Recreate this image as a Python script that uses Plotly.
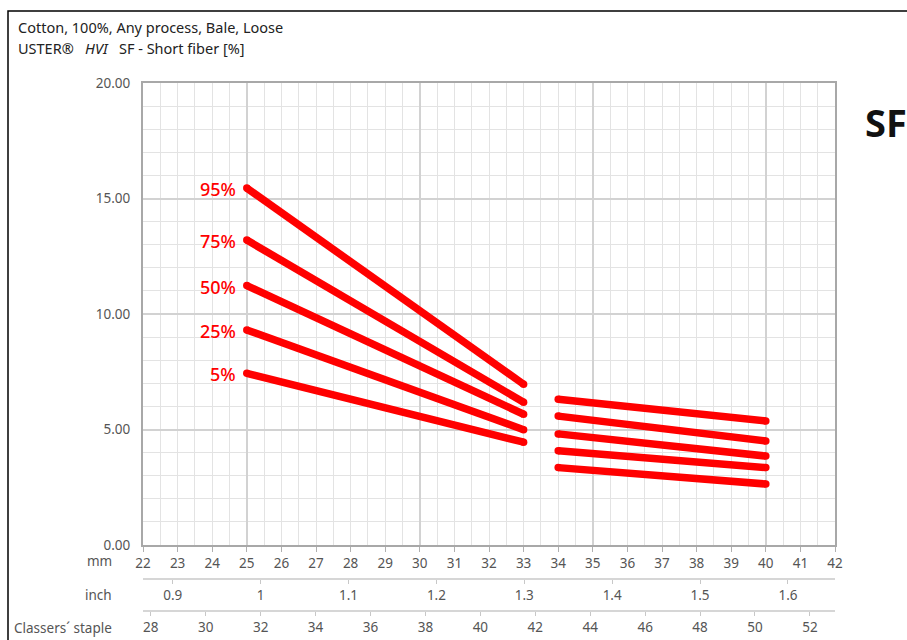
import plotly.graph_objects as go

# ---- data ----
percentiles = ["95%", "75%", "50%", "25%", "5%"]
seg1_mm = [25, 33]
seg2_mm = [34, 40]
seg1_start = [15.45, 13.20, 11.23, 9.31, 7.43]
seg1_end = [6.96, 6.18, 5.66, 4.99, 4.45]
seg2_start = [6.31, 5.58, 4.81, 4.08, 3.35]
seg2_end = [5.37, 4.50, 3.85, 3.35, 2.64]

MM_PER_INCH = 25.4
mm_range = [22, 42]
inch_range = [mm_range[0] / MM_PER_INCH, mm_range[1] / MM_PER_INCH]
staple_range = [v * 32 for v in inch_range]

title_line1 = "Cotton, 100%, Any process, Bale, Loose"
title_line2 = "USTER®&nbsp;&nbsp;&nbsp;<i>HVI</i>&nbsp;&nbsp;&nbsp;SF - Short fiber [%]"

FONT = "Noto Sans"
RED = "#ff0000"
TICKC = "#555555"

fig = go.Figure()
for i, name in enumerate(percentiles):
    xs = seg1_mm + [None] + seg2_mm
    ys = [seg1_start[i], seg1_end[i], None, seg2_start[i], seg2_end[i]]
    fig.add_trace(go.Scatter(
        x=xs, y=ys, mode="lines+markers", name=name,
        line=dict(color=RED, width=7.5),
        marker=dict(color=RED, size=7.5),
        connectgaps=False, showlegend=False, hoverinfo="skip",
    ))
    fig.add_annotation(
        x=seg1_mm[0], y=seg1_start[i], xref="x", yref="y",
        text=name, showarrow=False, xanchor="right", yanchor="middle",
        xshift=-9, yshift=-1, font=dict(family=FONT, size=18, color=RED, weight=500),
    )

# invisible helper traces so the overlaid scale axes get drawn
for ax, rng in [("x2", inch_range), ("x3", staple_range), ("x4", mm_range)]:
    fig.add_trace(go.Scatter(
        x=rng, y=[0, 0], xaxis=ax, yaxis="y", mode="markers",
        marker=dict(opacity=0, size=1), showlegend=False, hoverinfo="skip",
    ))

fig.update_layout(
    width=907, height=640,
    margin=dict(l=143, r=72, t=83, b=29),
    paper_bgcolor="white", plot_bgcolor="white",
    font=dict(family=FONT, size=13.5, color=TICKC),
    xaxis=dict(
        range=mm_range, dtick=1, tick0=0, domain=[0, 1], anchor="y",
        showgrid=True, gridcolor="#e3e3e3", gridwidth=1,
        minor=dict(dtick=0.5, showgrid=True, gridcolor="#e3e3e3", gridwidth=1),
        ticks="outside", ticklen=5, tickcolor="#b0b0b0",
        showline=True, linecolor="#a8a8a8", linewidth=2, mirror=True,
        zeroline=False, tickfont=dict(size=13.5, color=TICKC), automargin=False,
    ),
    xaxis4=dict(
        range=mm_range, dtick=5, tick0=0, overlaying="x", anchor="y",
        showgrid=True, gridcolor="#d2d2d2", gridwidth=2,
        showticklabels=False, ticks="", showline=False, zeroline=False,
        automargin=False,
    ),
    xaxis2=dict(
        range=inch_range, dtick=0.1, tick0=0, overlaying="x", anchor="free",
        position=(611 - 579) / 528, side="bottom",
        showgrid=False, zeroline=False,
        showline=True, linecolor="#d6d6d6", linewidth=2,
        ticks="outside", ticklen=4, tickcolor="#c8c8c8",
        tickfont=dict(size=13.5, color=TICKC), automargin=False,
    ),
    xaxis3=dict(
        range=staple_range, dtick=2, tick0=0, overlaying="x", anchor="free",
        position=0, side="bottom",
        showgrid=False, zeroline=False,
        showline=True, linecolor="#d6d6d6", linewidth=2,
        ticks="outside", ticklen=4, tickcolor="#c8c8c8",
        tickfont=dict(size=13.5, color=TICKC), automargin=False,
    ),
    yaxis=dict(
        range=[0, 20], dtick=5, tick0=0, domain=[(611 - 545) / 528, 1],
        tickformat=".2f", showgrid=True, gridcolor="#d2d2d2", gridwidth=2,
        minor=dict(dtick=1, showgrid=True, gridcolor="#e3e3e3", gridwidth=1),
        ticks="", ticklabelstandoff=8,
        showline=True, linecolor="#a8a8a8", linewidth=2, mirror=True,
        zeroline=False, tickfont=dict(size=13.5, color=TICKC), automargin=False,
    ),
)

# axis captions
for txt, ypix in [("mm", 561), ("inch", 595), ("Classers´ staple", 628)]:
    fig.add_annotation(
        x=(114 - 143) / 692, y=(611 - ypix) / 528, xref="paper", yref="paper",
        text=txt, showarrow=False, xanchor="right", yanchor="middle",
        font=dict(family=FONT, size=13.5, color=TICKC),
    )

# titles
for txt, ypix in [(title_line1, 27), (title_line2, 48)]:
    fig.add_annotation(
        x=(16 - 143) / 692, y=(611 - ypix) / 528, xref="paper", yref="paper",
        text=txt, showarrow=False, xanchor="left", yanchor="middle",
        font=dict(family=FONT, size=14.5, color="#222222"),
    )

fig.add_annotation(
    x=(863 - 143) / 692, y=(611 - 122) / 528, xref="paper", yref="paper",
    text="<b>SF</b>", showarrow=False, xanchor="left", yanchor="middle",
    font=dict(family=FONT, size=38, color="#111111"),
)

# outer frame
fig.add_shape(
    type="rect", xref="paper", yref="paper",
    x0=(8 - 143) / 692, x1=(1000 - 143) / 692,
    y0=(611 - 700) / 528, y1=(611 - 11) / 528,
    line=dict(color="#000000", width=1.5), fillcolor="rgba(0,0,0,0)",
    layer="below",
)

fig.write_html(
    "out.html",
    config={"displayModeBar": False},
    post_script="document.body.style.margin='0';document.body.style.overflow='hidden';",
)
